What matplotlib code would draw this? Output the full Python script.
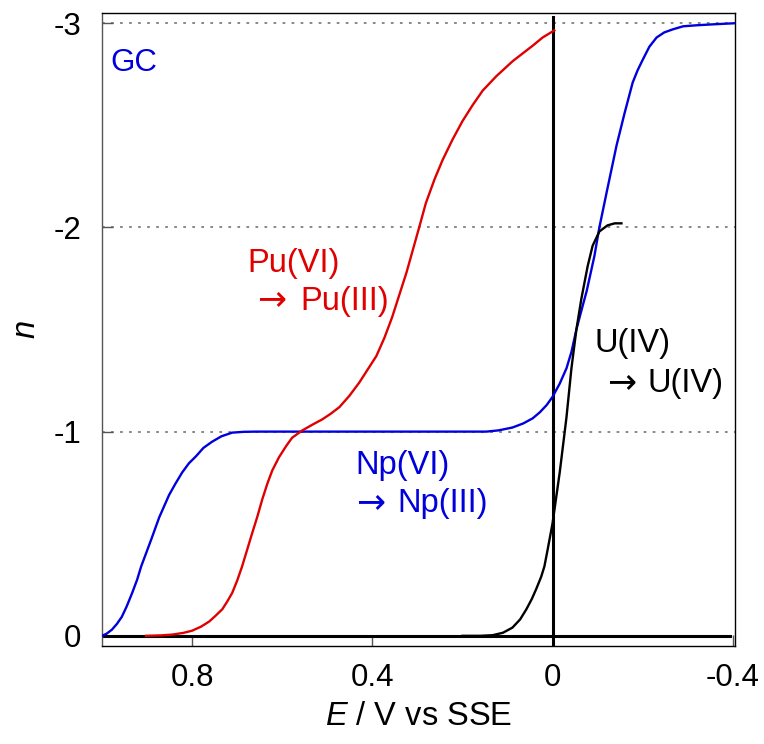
import matplotlib
matplotlib.use('Agg')
import matplotlib.pyplot as plt

plt.rcParams['font.family'] = ['Liberation Sans', 'DejaVu Sans']
plt.rcParams['mathtext.fontset'] = 'custom'
plt.rcParams['mathtext.it'] = 'Liberation Sans:italic'
plt.rcParams['mathtext.rm'] = 'Liberation Sans'
plt.rcParams['axes.unicode_minus'] = False

# Np(VI) -> Np(III) wave, blue
np_E = [1.0, 0.99, 0.978, 0.967, 0.956, 0.945, 0.933, 0.922, 0.913, 0.902,
        0.891, 0.882, 0.873, 0.862, 0.851, 0.837, 0.822, 0.807, 0.791, 0.775,
        0.756, 0.735, 0.711, 0.685, 0.658, 0.6, 0.5, 0.4, 0.3, 0.2, 0.147,
        0.12, 0.089, 0.065, 0.044, 0.028, 0.013, 0.0, -0.016, -0.031, -0.042,
        -0.053, -0.065, -0.076, -0.093, -0.104, -0.12, -0.142, -0.16, -0.178,
        -0.189, -0.2, -0.215, -0.231, -0.248, -0.267, -0.29, -0.32, -0.36, -0.405]
np_n = [0.0, -0.01, -0.03, -0.058, -0.093, -0.145, -0.21, -0.275, -0.34, -0.405,
        -0.47, -0.525, -0.58, -0.635, -0.69, -0.745, -0.80, -0.845, -0.88, -0.92,
        -0.95, -0.977, -0.995, -0.999, -1.0, -1.0, -1.0, -1.0, -1.0, -1.0, -1.0,
        -1.006, -1.02, -1.04, -1.065, -1.095, -1.13, -1.17, -1.235, -1.31, -1.39,
        -1.5, -1.6, -1.69, -1.86, -2.0, -2.17, -2.40, -2.56, -2.71,
        -2.77, -2.82, -2.885, -2.93, -2.955, -2.97, -2.985, -2.99, -2.995, -3.0]

# Pu(VI) -> Pu(III) wave, red
pu_E = [0.902, 0.87, 0.844, 0.82, 0.8, 0.78, 0.762, 0.748, 0.733, 0.722,
        0.711, 0.7, 0.689, 0.678, 0.667, 0.655, 0.644, 0.633, 0.622, 0.607,
        0.591, 0.578, 0.556, 0.533, 0.511, 0.492, 0.473, 0.451, 0.429, 0.41,
        0.391, 0.373, 0.356, 0.34, 0.324, 0.31, 0.296, 0.281, 0.262, 0.244,
        0.222, 0.2, 0.177, 0.155, 0.125, 0.088, 0.044, 0.022, -0.004]
pu_n = [0.0, -0.002, -0.006, -0.014, -0.025, -0.045, -0.07, -0.098, -0.13, -0.168,
        -0.21, -0.27, -0.34, -0.42, -0.50, -0.585, -0.67, -0.745, -0.81, -0.875,
        -0.93, -0.97, -1.005, -1.034, -1.06, -1.088, -1.12, -1.175, -1.24, -1.305,
        -1.37, -1.46, -1.56, -1.67, -1.78, -1.89, -2.0, -2.12, -2.235, -2.33,
        -2.43, -2.52, -2.60, -2.67, -2.74, -2.815, -2.89, -2.93, -2.965]

# U(VI) -> U(IV) wave, black
u_E = [0.2, 0.16, 0.133, 0.11, 0.089, 0.072, 0.058, 0.046, 0.036, 0.025,
       0.018, 0.011, 0.0, -0.016, -0.031, -0.042, -0.053, -0.064, -0.078,
       -0.089, -0.104, -0.122, -0.138, -0.153]
u_n = [0.0, 0.0, -0.003, -0.015, -0.04, -0.08, -0.13, -0.18, -0.23, -0.29,
       -0.34, -0.42, -0.55, -0.80, -1.07, -1.31, -1.5, -1.65, -1.81,
       -1.91, -1.98, -2.01, -2.02, -2.02]

# reference lines
base_E = [1.0, -0.395]
zero_n = [0.05, -3.03]
grid_n = [-1, -2, -3]

x_ticks = [0.8, 0.4, 0, -0.4]
x_labels = ['0.8', '0.4', '0', '-0.4']
y_ticks = [0, -1, -2, -3]
y_labels = ['0', '-1', '-2', '-3']

blue = '#0000dd'
red = '#e00000'

fig = plt.figure(figsize=(7.64, 7.44), dpi=100)
ax = fig.add_axes([0.1335, 0.1317, 0.8285, 0.8508])

for g in grid_n:
    ax.axhline(g, color='#7f7f7f', lw=1.3, linestyle=(0, (1.5, 3.5)), zorder=1)

ax.plot(base_E, [0, 0], color='black', lw=2.2, zorder=2)
ax.plot([0, 0], zero_n, color='black', lw=2.2, zorder=2)

ax.plot(np_E, np_n, color=blue, lw=1.7, zorder=3)
ax.plot(pu_E, pu_n, color=red, lw=1.7, zorder=3)
ax.plot(u_E, u_n, color='black', lw=1.7, zorder=3)

fs = 23.5
afs = 25  # arrow size
arrow = dict(family='DejaVu Sans', fontsize=afs)

ax.text(0.982, -2.765, 'GC', color=blue, fontsize=22.5)

ax.text(0.678, -1.78, 'Pu(VI)', color=red, fontsize=fs)
ax.text(0.656, -1.598, '\u2192', color=red, **arrow)
ax.text(0.56, -1.598, 'Pu(III)', color=red, fontsize=fs, zorder=4,
        bbox=dict(facecolor='white', edgecolor='none', pad=0))

ax.text(0.438, -0.794, 'Np(VI)', color=blue, fontsize=fs)
ax.text(0.436, -0.608, '\u2192', color=blue, **arrow)
ax.text(0.344, -0.608, 'Np(III)', color=blue, fontsize=fs)

ax.text(-0.093, -1.39, 'U(IV)', color='black', fontsize=fs)
ax.text(-0.12, -1.196, '\u2192', color='black', **arrow)
ax.text(-0.211, -1.196, 'U(IV)', color='black', fontsize=fs)

ax.set_xlim(1.0, -0.405)
ax.set_ylim(0.05, -3.05)
ax.set_xticks(x_ticks)
ax.set_xticklabels(x_labels)
ax.set_yticks(y_ticks)
ax.set_yticklabels(y_labels)
ax.tick_params(direction='in', length=8, width=1, color='#555555',
               labelsize=22.5)
ax.tick_params(axis='x', pad=12)
ax.tick_params(axis='y', pad=15)
for s in ax.spines.values():
    s.set_linewidth(1.0)
ax.spines['left'].set_color('#555555')

ax.set_xlabel('$E$ / V vs SSE', fontsize=fs, labelpad=6)
ax.set_ylabel('$n$', fontsize=fs, labelpad=8)

fig.savefig('out.png', dpi=100)
